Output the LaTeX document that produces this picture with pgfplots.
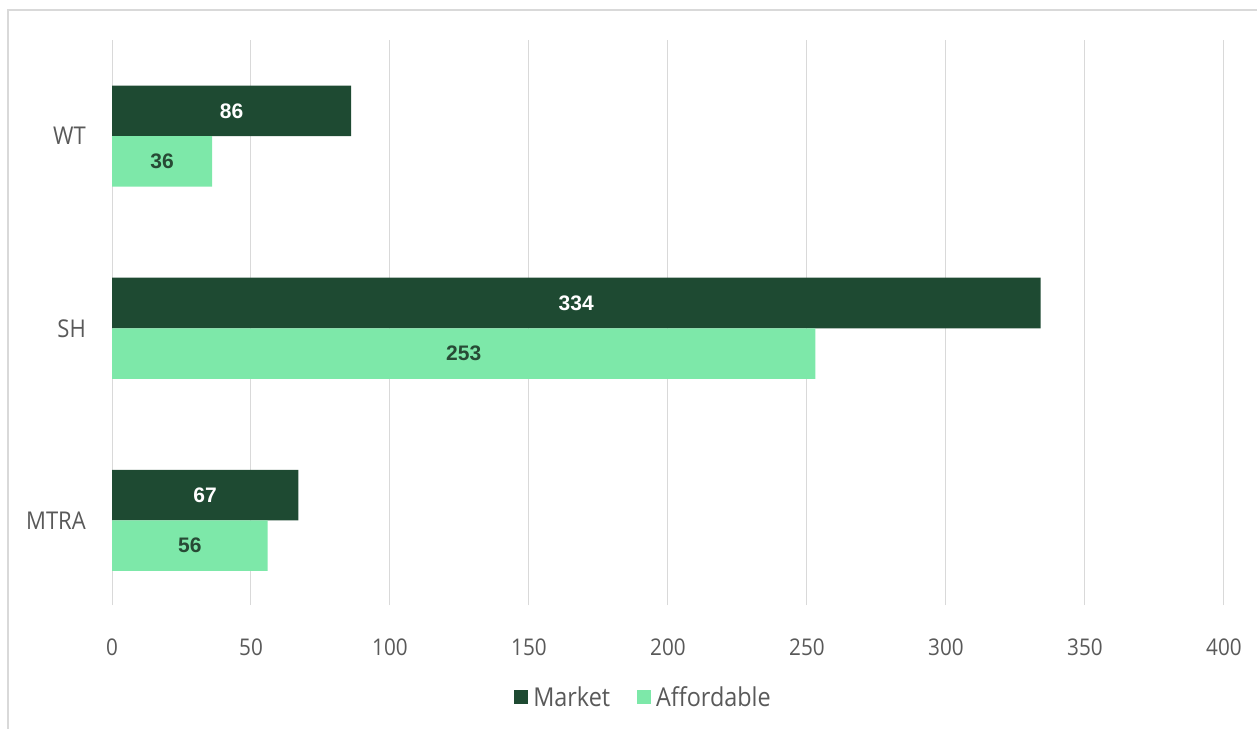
\documentclass[border=0pt]{standalone}
\usepackage{pgfplots}
\usepackage{pgfplotstable}
\usepackage{fontspec}
\pgfplotsset{compat=1.18}
\setmainfont{Open Sans}[FakeStretch=0.9]
\newfontfamily\labelfont{Liberation Sans}
\definecolor{market}{HTML}{1E4A32}
\definecolor{afford}{HTML}{7DE8A9}
\definecolor{txt}{HTML}{595959}
\definecolor{gridc}{HTML}{D9D9D9}
\definecolor{afflbl}{HTML}{274A35}
\pgfplotstableread{
pos cat market affordable
0 MTRA 67 56
1 SH 334 253
2 WT 86 36
}\data
\begin{document}
\begin{tikzpicture}
\useasboundingbox (0,0) rectangle (1257bp,-729bp);
\draw[gridc, line width=1.2bp] (8bp,-729bp) -- (8bp,-10bp) -- (1257bp,-10bp);
\begin{axis}[
  at={(112bp,-605bp)}, anchor=south west,
  scale only axis, width=1112bp, height=565bp,
  xmin=0, xmax=400, ymin=-0.44, ymax=2.5,
  xtick={0,50,...,400},
  ytick={0,1,2}, yticklabels={MTRA,SH,WT},
  xmajorgrids, major grid style={draw=gridc, line width=1bp},
  axis line style={draw=none},
  major tick length=0pt,
  /pgf/number format/assume math mode=true,
  xticklabel style={font=\fontsize{23bp}{27bp}\selectfont, text=txt, anchor=center, yshift=-42bp},
  yticklabel style={font=\fontsize{24.5bp}{29bp}\selectfont, text=txt, anchor=east, inner sep=0pt, xshift=-26bp},
  bar width=0.263,
  legend columns=2,
  legend style={at={(0.478,-0.163)}, anchor=center, draw=none, fill=none,
    font=\fontsize{26bp}{30bp}\selectfont, text=txt,
    /tikz/every odd column/.append style={column sep=3bp},
    /tikz/every even column/.append style={column sep=25bp}},
  legend image code/.code={\fill[#1] (0bp,-7bp) rectangle (14bp,7bp);},
]
\addplot[xbar, bar shift=0.1315, fill=market, draw=none] table[x=market, y=pos] \data;
\addlegendentry{Market}
\addplot[xbar, bar shift=-0.1315, fill=afford, draw=none] table[x=affordable, y=pos] \data;
\addlegendentry{Affordable}
\addplot[forget plot, only marks, mark=*, mark size=0pt, mark options={draw=none, fill=none},
  nodes near coords, point meta=explicit,
  nodes near coords style={anchor=center, text=white, font=\labelfont\bfseries\fontsize{21bp}{25bp}\selectfont}]
  table[x expr=\thisrow{market}/2, y expr=\thisrow{pos}+0.1315, meta=market] \data;
\addplot[forget plot, only marks, mark=*, mark size=0pt, mark options={draw=none, fill=none},
  nodes near coords, point meta=explicit,
  nodes near coords style={anchor=center, text=afflbl, font=\labelfont\bfseries\fontsize{21bp}{25bp}\selectfont}]
  table[x expr=\thisrow{affordable}/2, y expr=\thisrow{pos}-0.1315, meta=affordable] \data;
\end{axis}
\end{tikzpicture}
\end{document}
